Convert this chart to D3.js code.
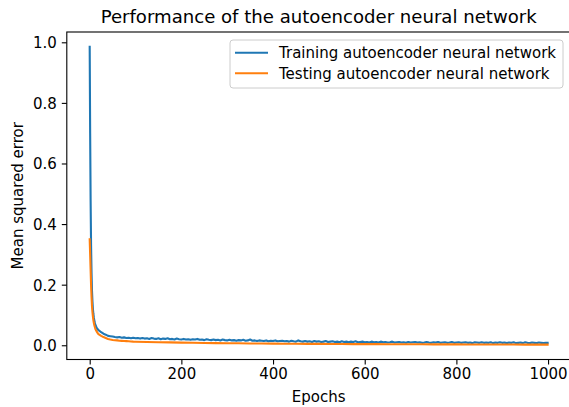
<!DOCTYPE html>
<html>
<head>
<meta charset="utf-8">
<title>autoencoder</title>
<script src="https://cdn.jsdelivr.net/npm/d3@7"></script>
<style>
  body { margin: 0; background: #fff; }
  text { font-family: "DejaVu Sans", sans-serif; fill: #000; }
</style>
</head>
<body>
<script>
//-------------------------------------------Data---------------------------------------------//
var xTicks = [0, 200, 400, 600, 800, 1000];
var yTicks = [0.0, 0.2, 0.4, 0.6, 0.8, 1.0];
var seriesNames = ["Training autoencoder neural network", "Testing autoencoder neural network"];

// training loss: every epoch up to 19, then every 5 epochs, then the last one
var trainEpochs = d3.range(0, 20).concat(d3.range(20, 1000, 5)).concat([999]);
var trainLoss = [
  0.985, 0.70, 0.48, 0.33, 0.24, 0.18, 0.145, 0.120, 0.104, 0.092,
  0.083, 0.076, 0.070, 0.066, 0.062, 0.059, 0.056, 0.054, 0.052, 0.050,
  0.049, 0.043, 0.038, 0.035, 0.031, 0.030, 0.029, 0.027, 0.026, 0.027,
  0.025, 0.026, 0.024, 0.025, 0.023, 0.025, 0.023, 0.024, 0.022, 0.024,
  0.022, 0.023, 0.021, 0.024, 0.022, 0.021, 0.023, 0.020, 0.022, 0.021,
  0.023, 0.020, 0.021, 0.019, 0.022, 0.020, 0.019, 0.021, 0.019, 0.020,
  0.018, 0.020, 0.019, 0.021, 0.018, 0.019, 0.017, 0.020, 0.018, 0.017,
  0.019, 0.017, 0.018, 0.016, 0.019, 0.017, 0.016, 0.018, 0.016, 0.017,
  0.015, 0.017, 0.016, 0.018, 0.015, 0.016, 0.019, 0.015, 0.016, 0.014,
  0.016, 0.015, 0.014, 0.016, 0.013, 0.015, 0.014, 0.016, 0.013, 0.014,
  0.015, 0.013, 0.014, 0.012, 0.015, 0.013, 0.012, 0.016, 0.013, 0.012,
  0.014, 0.012, 0.013, 0.011, 0.014, 0.012, 0.013, 0.011, 0.012, 0.014,
  0.011, 0.012, 0.013, 0.011, 0.012, 0.010, 0.013, 0.011, 0.012, 0.010,
  0.012, 0.011, 0.013, 0.010, 0.011, 0.012, 0.010, 0.011, 0.009, 0.012,
  0.010, 0.011, 0.009, 0.012, 0.010, 0.011, 0.009, 0.010, 0.012, 0.009,
  0.010, 0.011, 0.009, 0.010, 0.008, 0.011, 0.009, 0.010, 0.011, 0.009,
  0.010, 0.008, 0.009, 0.011, 0.009, 0.008, 0.010, 0.009, 0.011, 0.008,
  0.009, 0.010, 0.008, 0.009, 0.011, 0.008, 0.009, 0.010, 0.008, 0.009,
  0.010, 0.008, 0.009, 0.007, 0.010, 0.009, 0.008, 0.010, 0.008, 0.009,
  0.008, 0.010, 0.007, 0.009, 0.008, 0.010, 0.008, 0.009, 0.007, 0.009,
  0.008, 0.010, 0.007, 0.008, 0.009, 0.007, 0.010, 0.008, 0.007, 0.009,
  0.008, 0.007, 0.009, 0.008, 0.007, 0.008,
  0.008
];

// testing loss is smooth, so fewer samples are enough
var testEpochs = d3.range(0, 20).concat(d3.range(20, 101, 5)).concat(d3.range(125, 1000, 25)).concat([999]);
var testLoss = [
  0.350, 0.300, 0.250, 0.200, 0.160, 0.130, 0.110, 0.095, 0.083, 0.074,
  0.067, 0.061, 0.056, 0.052, 0.049, 0.046, 0.043, 0.041, 0.039, 0.037,
  0.036, 0.031, 0.027, 0.024, 0.021, 0.019, 0.0175, 0.0165, 0.016, 0.015,
  0.0145, 0.014, 0.0135, 0.013, 0.0125, 0.012, 0.0118,
  0.0108, 0.0100, 0.0094, 0.0088, 0.0082, 0.0077, 0.0072, 0.0068, 0.0064, 0.0060,
  0.0057, 0.0054, 0.0051, 0.0049, 0.0047, 0.0045, 0.0043, 0.0041, 0.0039, 0.0038,
  0.0036, 0.0035, 0.0034, 0.0032, 0.0031, 0.0030, 0.0029, 0.0028, 0.0027, 0.0026,
  0.0025, 0.0024, 0.0023, 0.0022, 0.0021,
  0.0021
];

var colors = ["#1f77b4", "#ff7f0e"];

//-------------------------------------------Layout---------------------------------------------//
var width = 569,
  height = 407;

var plotLeft = 66.8,
  plotRight = 570.5,
  plotTop = 32,
  plotBottom = 359.5;

var svg = d3
  .select("body")
  .append("svg")
  .attr("width", width)
  .attr("height", height);

var x = d3.scaleLinear().domain([-49.95, 1048.95]).range([plotLeft, plotRight]);
var y = d3.scaleLinear().domain([-0.047, 1.034]).range([plotBottom, plotTop]);

//-------------------------------------------Lines---------------------------------------------//
var line = d3
  .line()
  .x(function (d) { return x(d[0]); })
  .y(function (d) { return y(d[1]); });

var trainData = trainEpochs.map(function (e, i) { return [e, trainLoss[i]]; });
var testData = testEpochs.map(function (e, i) { return [e, testLoss[i]]; });

svg
  .append("g")
  .selectAll("path")
  .data([trainData, testData])
  .enter()
  .append("path")
  .attr("d", line)
  .attr("fill", "none")
  .attr("stroke", function (d, i) { return colors[i]; })
  .attr("stroke-width", 2.1)
  .attr("stroke-linejoin", "round")
  .attr("stroke-linecap", "square");

//-------------------------------------------Axes---------------------------------------------//
var xAxis = d3
  .axisBottom(x)
  .tickValues(xTicks)
  .tickFormat(d3.format("d"))
  .tickSize(5)
  .tickPadding(4);

var yAxis = d3
  .axisLeft(y)
  .tickValues(yTicks)
  .tickFormat(d3.format(".1f"))
  .tickSize(5)
  .tickPadding(5);

var gx = svg
  .append("g")
  .attr("transform", "translate(0," + plotBottom + ")")
  .call(xAxis);
var gy = svg
  .append("g")
  .attr("transform", "translate(" + plotLeft + ",0)")
  .call(yAxis);

[gx, gy].forEach(function (g) {
  g.select(".domain").remove();
  g.selectAll(".tick line").attr("stroke", "#000").attr("stroke-width", 1.1);
  g.selectAll(".tick text")
    .attr("font-size", 15)
    .attr("font-family", "DejaVu Sans")
    .attr("fill", "#000");
});
gy.selectAll(".tick text").attr("dy", "0.36em");

// spines (the right one falls just outside the picture)
svg
  .append("rect")
  .attr("x", plotLeft)
  .attr("y", plotTop)
  .attr("width", plotRight - plotLeft)
  .attr("height", plotBottom - plotTop)
  .attr("fill", "none")
  .attr("stroke", "#000")
  .attr("stroke-width", 1.1);

//-------------------------------------------Labels---------------------------------------------//
svg
  .append("text")
  .attr("x", (plotLeft + plotRight) / 2)
  .attr("y", 23)
  .attr("text-anchor", "middle")
  .attr("font-size", 18.1)
  .text("Performance of the autoencoder neural network");

svg
  .append("text")
  .attr("x", (plotLeft + plotRight) / 2)
  .attr("y", 402)
  .attr("text-anchor", "middle")
  .attr("font-size", 15)
  .text("Epochs");

svg
  .append("text")
  .attr("transform", "translate(23," + (plotTop + plotBottom) / 2 + ") rotate(-90)")
  .attr("text-anchor", "middle")
  .attr("font-size", 15)
  .text("Mean squared error");

//-------------------------------------------Legend---------------------------------------------//
var legend = svg.append("g").attr("transform", "translate(230,40)");

legend
  .append("rect")
  .attr("width", 333)
  .attr("height", 48)
  .attr("rx", 3)
  .attr("fill", "#fff")
  .attr("fill-opacity", 0.8)
  .attr("stroke", "#cccccc")
  .attr("stroke-width", 1);

var item = legend
  .selectAll(".item")
  .data(seriesNames)
  .enter()
  .append("g")
  .attr("class", "item")
  .attr("transform", function (d, i) { return "translate(0," + (12.7 + i * 20.6) + ")"; });

item
  .append("line")
  .attr("x1", 5)
  .attr("x2", 38)
  .attr("stroke", function (d, i) { return colors[i]; })
  .attr("stroke-width", 2.1);

item
  .append("text")
  .attr("x", 49)
  .attr("dy", "0.36em")
  .attr("font-size", 15)
  .text(function (d) { return d; });
</script>
</body>
</html>
